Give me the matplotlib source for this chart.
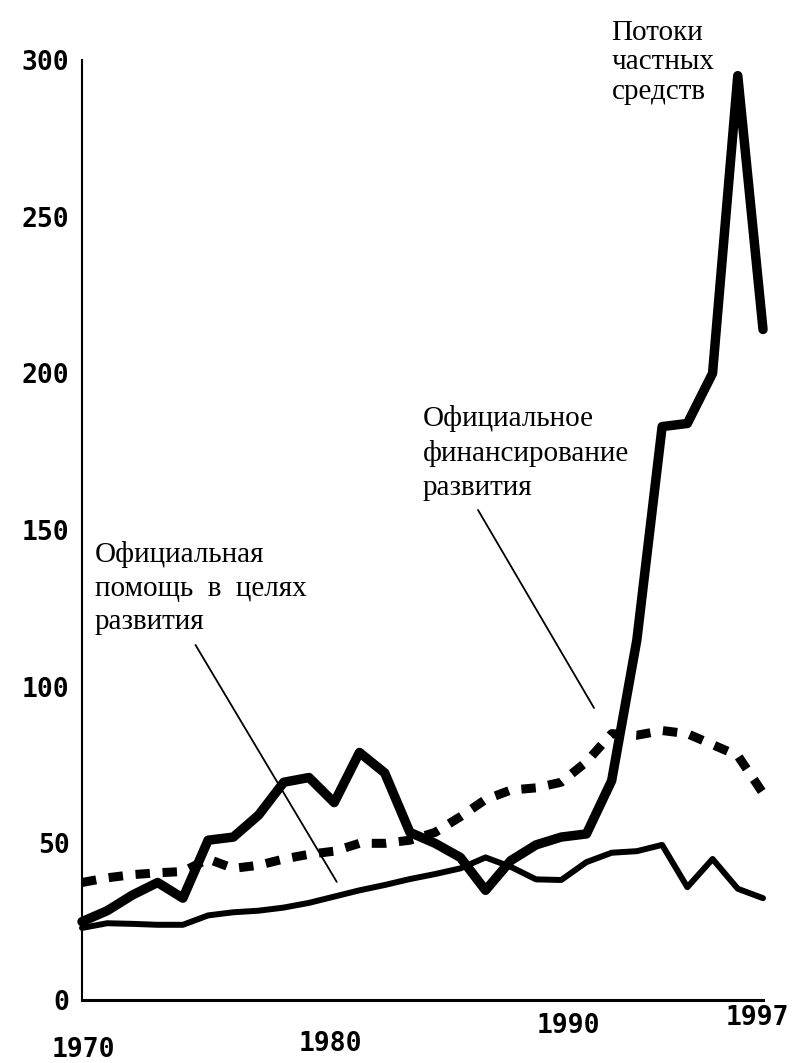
import matplotlib
matplotlib.use("Agg")
import matplotlib.pyplot as plt
from matplotlib.transforms import ScaledTranslation

# annual values, billions of dollars
years = list(range(1970, 1998))
private_flows = [25, 28.5, 33.5, 37.5, 32.5, 51, 52, 59, 69.5, 71, 63, 79, 72.5, 53.5,
                 50, 45.5, 35, 44.5, 49.5, 52, 53, 70, 115, 183, 184, 200, 295, 214]
oda = [23, 24.5, 24.3, 24, 24, 27, 28, 28.5, 29.5, 31, 33, 35, 36.7, 38.6,
       40.2, 42, 45.5, 42.5, 38.5, 38.3, 44, 47, 47.5, 49.5, 36, 45, 35.5, 32.5]
odf = [37.5, 39, 40, 40.6, 41, 45, 42, 43, 45, 46.5, 47.5, 50, 50, 51,
       53.5, 58.5, 64, 67, 67.7, 69.5, 76, 85, 84.5, 86, 85, 81.5, 78, 66]

y_ticks = [0, 50, 100, 150, 200, 250, 300]
x_ticks = [1970, 1980, 1990, 1997]

label_private = "Потоки\nчастных\nсредств"
label_odf = "Официальное\nфинансирование\nразвития"
label_oda = "Официальная\nпомощь  в  целях\nразвития"

fig = plt.figure(figsize=(8.08, 10.63), dpi=100)
ax = fig.add_axes([82 / 808, 63 / 1063, 681 / 808, 940 / 1063])

ax.plot(years, private_flows, color="black", lw=6.8, solid_capstyle="round",
        solid_joinstyle="round", clip_on=False, zorder=4)
ax.plot(years, oda, color="black", lw=4.3, solid_capstyle="round",
        solid_joinstyle="round", clip_on=False, zorder=3)
ax.plot(years, odf, color="black", lw=6.5, linestyle=(0, (1.6, 1.4)),
        dash_capstyle="butt", clip_on=False, zorder=3)

ax.set_xlim(1970, 1997)
ax.set_ylim(0, 300)
for s in ["top", "right"]:
    ax.spines[s].set_visible(False)
ax.spines["left"].set_linewidth(1.5)
ax.spines["bottom"].set_linewidth(2.2)

mono = {"family": "DejaVu Sans Mono", "weight": "bold", "size": 19}
ax.set_yticks(y_ticks)
ax.set_yticklabels([str(v) for v in y_ticks], fontdict=mono)
ax.set_xticks(x_ticks)
ax.set_xticklabels([str(v) for v in x_ticks], fontdict=mono)
ax.tick_params(axis="y", length=0, pad=9)
ax.tick_params(axis="x", length=0, pad=0)

# the scanned axis labels drift upward to the right
label_dx = [1, -4, -18, -6]
label_dy = [-50, -44, -26, -18]
for lbl, dx, dy in zip(ax.get_xticklabels(), label_dx, label_dy):
    lbl.set_va("center")
    lbl.set_transform(lbl.get_transform() +
                      ScaledTranslation(dx / 100, dy / 100, fig.dpi_scale_trans))

serif = {"family": "Liberation Serif", "size": 21, "color": "black"}
ax.text(1991.0, 312.8, label_private, va="top", ha="left", linespacing=1.17,
        clip_on=False, **serif)
ax.text(1983.5, 190, label_odf, va="top", ha="left", linespacing=1.4, **serif)
ax.text(1970.5, 146.5, label_oda, va="top", ha="left", linespacing=1.38, **serif)

leader = dict(arrowstyle="-", lw=1.3, color="black", shrinkA=0, shrinkB=0)
ax.annotate("", xy=(1980.1, 37.7), xytext=(1974.5, 113.3), arrowprops=leader)
ax.annotate("", xy=(1990.3, 93.2), xytext=(1985.7, 156.4), arrowprops=leader)

fig.savefig("out.png", dpi=100, facecolor="white")
